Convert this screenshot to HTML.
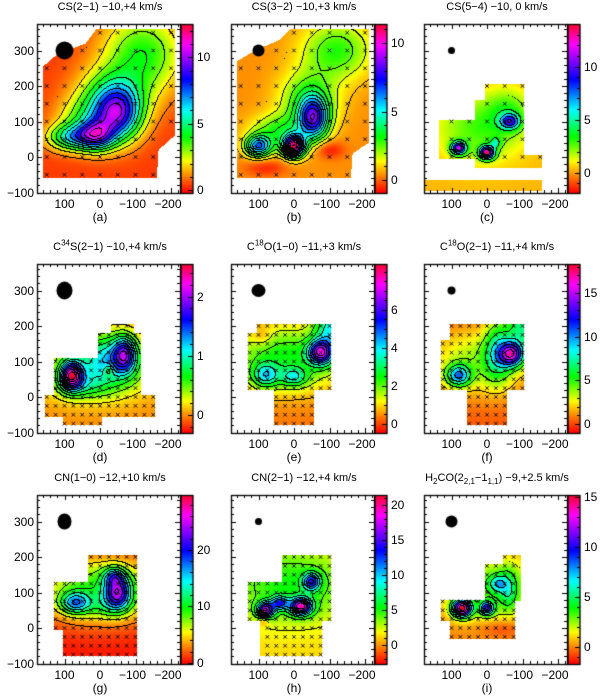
<!DOCTYPE html>
<html><head><meta charset="utf-8">
<style>
html,body{margin:0;padding:0;background:#fff;}
#wrap{position:relative;width:600px;height:697px;overflow:hidden;font-family:"Liberation Sans",sans-serif;color:#000;}
canvas{position:absolute;left:0;top:0;}
.t{position:absolute;font-size:11px;white-space:nowrap;line-height:1;}
.ttl{font-size:11px;transform:translateX(-50%);}
.xl{transform:translateX(-50%);font-size:12px;}
.yl{transform:translate(-100%,-50%);font-size:12px;}
.cl{transform:translateY(-50%);font-size:12px;}
sup,sub{font-size:8px;line-height:0;}
</style></head>
<body>
<div id="wrap">
<canvas id="cv" width="600" height="697"></canvas>
</div>
<script>
// ---- data ----
const titles = ["CS(2&minus;1) &minus;10,+4 km/s","CS(3&minus;2) &minus;10,+3 km/s","CS(5&minus;4) &minus;10, 0 km/s",
"C<sup>34</sup>S(2&minus;1) &minus;10,+4 km/s","C<sup>18</sup>O(1&minus;0) &minus;11,+3 km/s","C<sup>18</sup>O(2&minus;1) &minus;11,+4 km/s",
"CN(1&minus;0) &minus;12,+10 km/s","CN(2&minus;1) &minus;12,+4 km/s","H<sub>2</sub>CO(2<sub>2,1</sub>&minus;1<sub>1,1</sub>) &minus;9,+2.5 km/s"];
const letters = ["(a)","(b)","(c)","(d)","(e)","(f)","(g)","(h)","(i)"];
const xTicks = [100,0,-100,-200];
const yTicks = [300,200,100,0,-100];
const vRange = [[-0.2,12.5],[-0.95,11.4],[-1.9,14],[-0.3,2.55],[-0.5,8.4],[-1,18.3],[-0.2,29.7],[-2.7,21.4],[-1.7,15.2]];
const cbTicks = [[0,5,10],[0,5,10],[0,5,10],[0,1,2],[0,2,4,6],[0,5,10,15],[0,10,20],[0,5,10,15,20],[0,5,10,15]];
const cbMinor = [1,1,1,0.2,0.5,1,2,1,1];
const bases = [0.4,0.4,0.3,0.0,0.3,0.3,0.3,1.2,-0.3];
const steps = [1,0.8,2,0.2,0.7,2,2.5,2,1.8];
const sigScale = [1.15,1.15,1.05,1.2,1.3,1.3,1.15,1.2,1.2];
const beams = [[9,9],[6,6],[3.5,3.5],[8,9],[7,6.5],[4,4],[7,8],[3.5,3.5],[6,6]];
const gridSp = [50,50,50,25,25,25,25,25,25];
// peaks: [x, y, amplitude, sigmaX, sigmaY]
const peaksA = [[-50,120,7,40,45],[10,60,6,30,25],[80,55,4.5,40,22],[-120,290,3.5,70,70],[-30,170,3,60,50],[40,100,2.5,50,40]];
const peaksB = [[100,30,5.5,22,18],[0,30,9.5,18,18],[-55,110,6.5,25,35],[-120,300,2.5,60,50],[-40,160,2.5,50,50],[40,70,2.5,50,30],[-100,20,-1.2,25,15],[80,-30,-1,35,15]];
const peaksC = [[80,25,10,14,12],[0,12,12,14,12],[-65,100,7,18,14],[-25,40,3,10,10],[20,80,2.5,80,60],[-60,130,2,40,40]];
const peaksD = [[80,60,1.9,18,22],[-70,120,1.2,18,28],[-30,110,0.7,45,40],[10,80,0.6,90,50],[-25,75,-0.4,8,10],[50,30,0.4,40,20]];
const peaksE = [[-75,125,5,18,18],[80,60,2.5,20,18],[0,55,2,20,14],[-105,200,3,25,40],[20,110,2.2,90,50],[90,170,-0.6,15,15]];
const peaksF = [[-70,120,12,18,18],[80,60,8,18,16],[-30,130,5,20,45],[-100,200,6,25,35],[20,100,3.5,80,50]];
const peaksG = [[-50,100,16,22,28],[-40,145,8,18,15],[70,70,11,25,18],[0,110,9,110,55],[-20,60,3,40,20]];
const peaksH = [[80,50,15,14,13],[40,70,9,14,11],[-20,60,16,18,14],[-50,130,10,14,14],[10,120,4,100,60],[85,20,-3,10,8]];
const peaksI = [[70,55,14,16,14],[0,55,9,11,11],[-30,125,4,14,14],[-60,110,3,14,30],[-20,110,3.5,90,60],[-40,0,-1.2,40,15]];
const peaks = [peaksA,peaksB,peaksC,peaksD,peaksE,peaksF,peaksG,peaksH,peaksI];
// coverage: polygons (x,y data units) or rects [xHigh,xLow,yLow,yHigh]
const polyA = [[160,-60],[160,255],[120,290],[40,320],[10,360],[-210,360],[-210,60],[-165,20],[-160,-60]];
const polyB = [[160,-60],[160,270],[110,300],[40,330],[10,360],[-210,360],[-210,40],[-165,10],[-160,-60]];
const rectsC = [[135,30,-5,105],[35,-45,-30,160],[5,-105,40,205],[-40,-155,-30,5],[-40,-105,-10,60],[180,-155,-95,-65]];
const rectsD = [[130,-5,-5,110],[5,-115,-5,180],[-30,-95,170,205],[155,-155,-55,5],[105,-5,-80,-50]];
const rectsE = [[130,-105,20,180],[105,-105,175,205],[55,-55,-80,20]];
const rectsF = [[130,-105,20,160],[105,-105,155,205],[55,-55,-80,20]];
const rectsG = [[130,-105,-5,130],[35,-105,125,205],[105,-105,-80,0]];
const rectsH = [[130,-105,20,130],[35,-105,125,205],[95,-80,-80,25]];
const rectsI = [[130,-80,20,80],[5,-95,75,180],[-45,-95,175,205],[105,-80,-30,20]];
const coverage = [{poly:polyA},{poly:polyB},{rects:rectsC},{rects:rectsD},{rects:rectsE},{rects:rectsF},{rects:rectsG},{rects:rectsH},{rects:rectsI}];

// ---- layout ----
const colOff=[0,194,387], rowOff=[0,240,471], S=0.355;
const wrap=document.getElementById('wrap');
const ctx=document.getElementById('cv').getContext('2d');
function px(p,x){return colOff[p%3]+100-S*x;}
function py(p,y){return rowOff[Math.floor(p/3)]+157-S*y;}
function dx(p,X){return (colOff[p%3]+100-X)/S;}
function dy(p,Y){return (rowOff[Math.floor(p/3)]+157-Y)/S;}
function inPoly(poly,x,y){let c=false;for(let i=0,j=poly.length-1;i<poly.length;j=i++){const a=poly[i],b=poly[j];if(((a[1]>y)!=(b[1]>y))&&(x<(b[0]-a[0])*(y-a[1])/(b[1]-a[1])+a[0]))c=!c;}return c;}
function covered(p,x,y){const c=coverage[p];if(c.poly)return inPoly(c.poly,x,y);return c.rects.some(r=>x<=r[0]&&x>=r[1]&&y>=r[2]&&y<=r[3]);}
function field(p,x,y){let v=bases[p];const s=sigScale[p];for(const k of peaks[p]){const a=(x-k[0])/(k[3]*s),b=(y-k[1])/(k[4]*s);v+=k[2]*Math.exp(-0.5*(a*a+b*b));}return v;}
const hs=[[0,0],[0.06,18],[0.175,55],[0.32,115],[0.49,180],[0.67,240],[0.88,300],[1,350]];
function cmap(t){t=Math.max(0,Math.min(1,t));let h=0;for(let i=1;i<hs.length;i++){if(t<=hs[i][0]){const f=(t-hs[i-1][0])/(hs[i][0]-hs[i-1][0]);h=hs[i-1][1]+f*(hs[i][1]-hs[i-1][1]);break;}}
 const hh=h/60,X=1-Math.abs(hh%2-1);let r,g,b;if(hh<1)[r,g,b]=[1,X,0];else if(hh<2)[r,g,b]=[X,1,0];else if(hh<3)[r,g,b]=[0,1,X];else if(hh<4)[r,g,b]=[0,X,1];else if(hh<5)[r,g,b]=[X,0,1];else[r,g,b]=[1,0,X];
 return [r*255|0,g*255|0,b*255|0];}

function addText(html,cls,x,y,name){const d=document.createElement('div');d.className='t '+cls;d.style.left=x+'px';d.style.top=y+'px';d.innerHTML=html;
 
 
 wrap.appendChild(d);return d;}

const img=ctx.createImageData(600,697);const D=img.data;
function setPx(X,Y,c){const i=(Y*600+X)*4;D[i]=c[0];D[i+1]=c[1];D[i+2]=c[2];D[i+3]=255;}
for(let i=0;i<D.length;i+=4){D[i]=D[i+1]=D[i+2]=D[i+3]=255;}

for(let p=0;p<9;p++){
 const ox=colOff[p%3],oy=rowOff[Math.floor(p/3)];
 const L=ox+37,R=ox+180,T=oy+24,B=oy+193;
 const [vmin,vmax]=vRange[p];
 const lvl=new Map();
 for(let Y=T;Y<B;Y++)for(let X=L;X<R;X++){
  const x=dx(p,X+0.5),y=dy(p,Y+0.5);
  if(!covered(p,x,y))continue;
  const v=field(p,x,y);
  setPx(X,Y,cmap((v-vmin)/(vmax-vmin)));
  lvl.set(Y*600+X,Math.floor(v/steps[p]));
 }
 for(const [k,l] of lvl){const r=lvl.get(k+1),d=lvl.get(k+600);
  if((r!==undefined&&r!==l)||(d!==undefined&&d!==l)){const Y=Math.floor(k/600),X=k%600;
   const v=field(p,dx(p,X+0.5),dy(p,Y+0.5));if(v>steps[p]*0.999||p===3)setPx(X,Y,[0,0,0]);}}
 for(let Y=T;Y<B;Y++){const t=1-(Y-T+0.5)/(B-T);for(let X=ox+181;X<ox+193;X++)setPx(X,Y,cmap(t));}
}
ctx.putImageData(img,0,0);

ctx.strokeStyle='#000';ctx.fillStyle='#000';
for(let p=0;p<9;p++){
 const ox=colOff[p%3],oy=rowOff[Math.floor(p/3)];
 const L=ox+37,R=ox+180,T=oy+24,B=oy+193;
 const [vmin,vmax]=vRange[p];
 ctx.lineWidth=0.9;const g=gridSp[p];
 for(let x=-250;x<=200;x+=g)for(let y=-100;y<=400;y+=g){
  if(!covered(p,x,y))continue;const X=px(p,x),Y=py(p,y);if(X<L+2||X>R-2||Y<T+2||Y>B-2)continue;
  ctx.beginPath();ctx.moveTo(X-1.8,Y-1.8);ctx.lineTo(X+1.8,Y+1.8);ctx.moveTo(X+1.8,Y-1.8);ctx.lineTo(X-1.8,Y+1.8);ctx.stroke();}
 ctx.beginPath();ctx.ellipse(px(p,100),py(p,300),beams[p][0],beams[p][1],0,0,Math.PI*2);ctx.fill();
 ctx.lineWidth=1.3;ctx.strokeRect(L+0.5,T+0.5,R-L,B-T);ctx.strokeRect(ox+181,T+0.5,12,B-T);
 ctx.lineWidth=1;
 for(let v=-220;v<=180;v+=20){const X=Math.round(px(p,v))+0.5;if(X<L+1||X>R-1)continue;const len=v%100===0?5:3;
  ctx.beginPath();ctx.moveTo(X,B);ctx.lineTo(X,B-len);ctx.moveTo(X,T);ctx.lineTo(X,T+len);ctx.stroke();}
 for(let v=-100;v<=380;v+=20){const Y=Math.round(py(p,v))+0.5;if(Y<T+1||Y>B)continue;const len=v%100===0?5:3;
  ctx.beginPath();ctx.moveTo(L,Y);ctx.lineTo(L+len,Y);ctx.moveTo(R,Y);ctx.lineTo(R-len,Y);ctx.stroke();}
 const m=cbMinor[p];
 for(let v=Math.ceil(vmin/m)*m;v<=vmax;v+=m){const Y=Math.round(B-(v-vmin)/(vmax-vmin)*(B-T))+0.5;
  const maj=cbTicks[p].some(t=>Math.abs(t-v)<1e-6);ctx.beginPath();ctx.moveTo(ox+193,Y);ctx.lineTo(ox+193-(maj?5:3),Y);ctx.stroke();}
 addText(titles[p],'ttl',ox+110,oy+2,'panel-title');
 for(const t of xTicks)addText(String(t).replace('-','&minus;'),'xl',px(p,t)-(t<0?3:0),oy+198,'x-tick-label');
 addText(letters[p],'xl',ox+100,oy+211,'panel-letter');
 if(p%3===0)for(const t of yTicks)addText(String(t).replace('-','&minus;'),'yl',ox+34,py(p,t),'y-tick-label');
 for(const t of cbTicks[p])addText(String(t),'cl',ox+197,B-(t-vmin)/(vmax-vmin)*(B-T),'colorbar-tick-label');
}
</script>
</body></html>
